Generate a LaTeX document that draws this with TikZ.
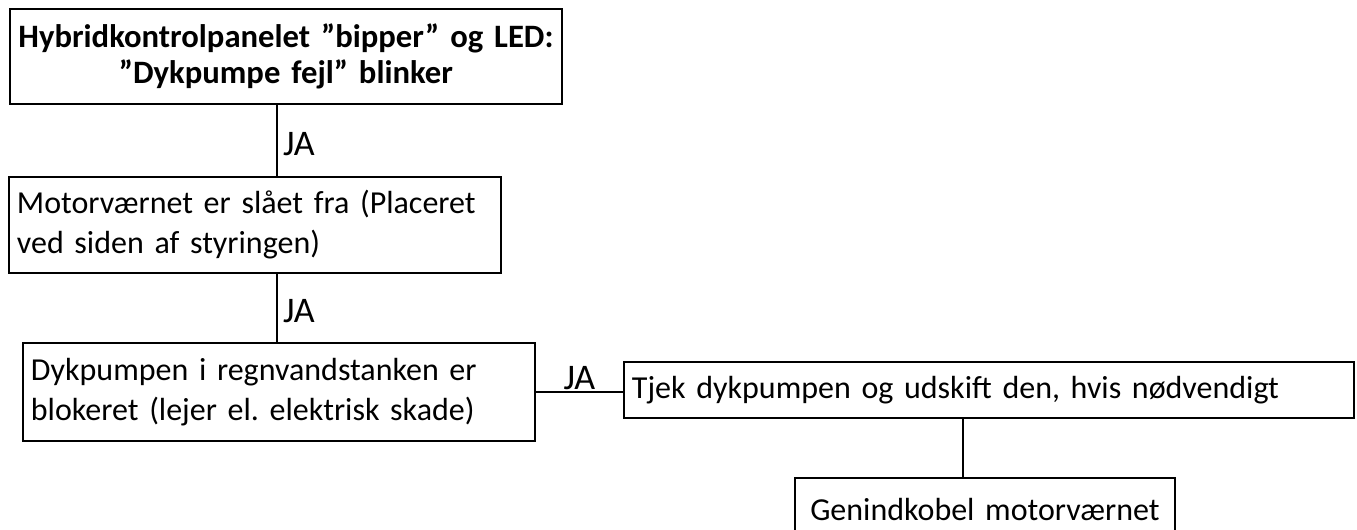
\documentclass[tikz,border=0pt]{standalone}
\usepackage{fontspec}
\setmainfont{Carlito}
\usetikzlibrary{positioning}
\frenchspacing

\tikzset{
  boks/.style={draw, line width=1.4pt, anchor=north west, inner xsep=6pt, inner ysep=0pt, font=\fontsize{24}{30}\selectfont},
  forb/.style={line width=1.1pt},
  ja/.style={font=\fontsize{27}{30}\selectfont, inner sep=4pt}
}

\begin{document}
\begin{tikzpicture}[x=0.75pt,y=-0.75pt]

            \useasboundingbox (0,0) rectangle (1357,530);

            \node[boks, inner xsep=2pt, text width=410pt, minimum height=71.25pt, align=center, font=\fontsize{24.5}{27}\selectfont\bfseries] (alarm) at (9,8) {Hybridkontrolpanelet ”bipper” og LED:\\”Dykpumpe fejl” blinker};
            \node[boks, text width=357pt, minimum height=72pt, align=left] (motor) at (8,176) {Motorværnet er slået fra (Placeret\\ved siden af styringen)};
            \node[boks, text width=372pt, minimum height=73.5pt, align=left] (pumpe) at (22,342) {Dykpumpen i regnvandstanken er\\blokeret (lejer el. elektrisk skade)};
            \node[boks, text width=535.5pt, minimum height=42pt, align=left] (tjek) at (623,361) {Tjek dykpumpen og udskift den, hvis nødvendigt};
            \node[boks, text width=273pt, minimum height=47pt, align=center] (genind) at (794,477) {Genindkobel motorværnet};

            \coordinate (akse) at (277,0);
            \coordinate (akse2) at (963,0);

            \draw[forb] (alarm.south -| akse) -- node[ja, right, pos=0.55] {JA} (motor.north -| akse);
            \draw[forb] (motor.south -| akse) -- node[ja, right, pos=0.55] {JA} (pumpe.north -| akse);
            \draw[forb] (pumpe.east) -- node[ja, above, inner sep=1pt] {JA} (pumpe.east -| tjek.west);
            \draw[forb] (tjek.south -| akse2) -- (genind.north -| akse2);

\end{tikzpicture}
\end{document}
